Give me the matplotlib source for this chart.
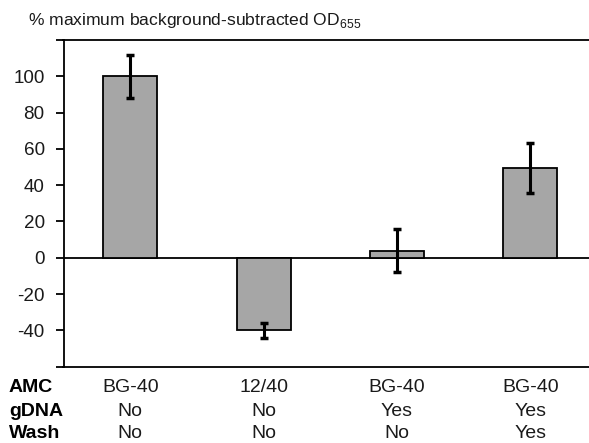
import matplotlib
matplotlib.use("Agg")
import matplotlib.pyplot as plt

plt.rcParams['font.family'] = ['Liberation Sans', 'DejaVu Sans']
plt.rcParams['mathtext.fontset'] = 'custom'
plt.rcParams['mathtext.rm'] = 'Liberation Sans'

amc = ["BG-40", "12/40", "BG-40", "BG-40"]
gdna = ["No", "No", "Yes", "Yes"]
wash = ["No", "No", "No", "Yes"]
values = [100, -40, 4, 49.5]
errors = [12, 4, 12, 14]
yticks = [-60, -40, -20, 0, 20, 40, 60, 80, 100, 120]
ytick_labels = ["", "-40", "-20", "0", "20", "40", "60", "80", "100", ""]

W, H = 589, 443
fig = plt.figure(figsize=(W / 100, H / 100), dpi=100)
ax = fig.add_axes([63.5 / W, 1 - 366.7 / H, (597 - 63.5) / W, (366.7 - 40) / H])

x = list(range(len(values)))
ax.bar(x, values, width=0.405, color="#A6A6A6", edgecolor="black", linewidth=1.3, zorder=2)
ax.errorbar(x, values, yerr=errors, fmt="none", ecolor="black", elinewidth=2.2,
            capsize=3, capthick=2.5, zorder=3)
ax.axhline(0, color="black", linewidth=1.3, zorder=1)

ax.set_xlim(-0.5, 3.5)
ax.set_ylim(-60, 120)
ax.set_yticks(yticks)
ax.set_yticklabels(ytick_labels, fontsize=13.6, color="#1a1a1a")
ax.set_xticks([])
ax.tick_params(axis="y", direction="out", length=5.5, width=1.3, pad=8)
for s in ["left", "top", "bottom"]:
    ax.spines[s].set_linewidth(1.3)
ax.spines["right"].set_visible(False)

fig.text(28 / W, 1 - 20 / H, r"% maximum background-subtracted OD$_{\mathregular{655}}$",
         fontsize=12.6, va="center", ha="left", color="#1a1a1a")

rows = [("AMC", amc, 387), ("gDNA", gdna, 411), ("Wash", wash, 434)]
for label, vals, ypix in rows:
    yf = 1 - ypix / H
    fig.text(9 / W, yf, label, fontsize=14, fontweight="bold", va="center", ha="left")
    for i, v in enumerate(vals):
        xd = ax.transData.transform((i, 0))[0]
        fig.text(xd / W, yf, v, fontsize=14, va="center", ha="center", color="#1a1a1a")

fig.savefig("out.png", dpi=100)
